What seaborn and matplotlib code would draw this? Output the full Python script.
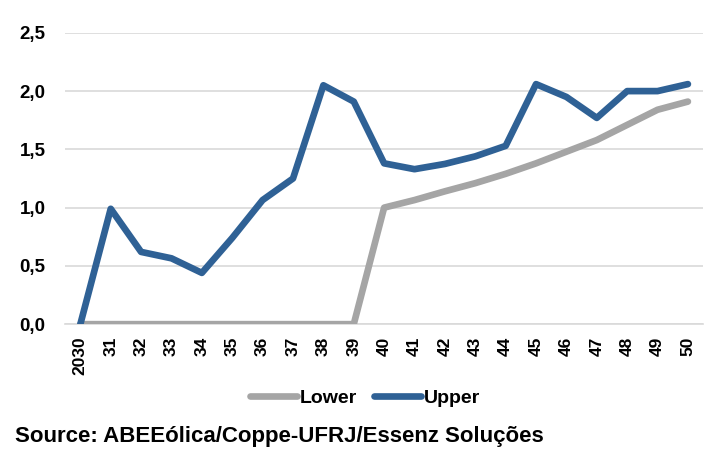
import matplotlib
matplotlib.use("Agg")
import matplotlib.pyplot as plt
import seaborn as sns
import pandas as pd
from matplotlib.lines import Line2D

years = ["2030", "31", "32", "33", "34", "35", "36", "37", "38", "39", "40",
         "41", "42", "43", "44", "45", "46", "47", "48", "49", "50"]
lower = [0, 0, 0, 0, 0, 0, 0, 0, 0, 0, 1.00,
         1.065, 1.14, 1.21, 1.29, 1.38, 1.48, 1.58, 1.71, 1.84, 1.91]
upper = [0, 0.99, 0.62, 0.565, 0.44, 0.74, 1.065, 1.25, 2.05, 1.91, 1.38,
         1.33, 1.375, 1.44, 1.53, 2.06, 1.95, 1.77, 2.0, 2.0, 2.06]
yticks = [0, 0.5, 1.0, 1.5, 2.0, 2.5]
ytick_labels = ["0,0", "0,5", "1,0", "1,5", "2,0", "2,5"]

sns.set_theme(style="white")
plt.rcParams['font.family'] = ['Liberation Sans', 'DejaVu Sans']
plt.rcParams['text.color'] = 'black'
plt.rcParams['xtick.color'] = 'black'
plt.rcParams['ytick.color'] = 'black'

df = pd.DataFrame({
    "idx": list(range(len(years))) * 2,
    "value": lower + upper,
    "series": ["Lower"] * len(years) + ["Upper"] * len(years),
})

fig = plt.figure(figsize=(7.16, 4.76), dpi=100)
ax = fig.add_axes([0.091, 0.319, 0.891, 0.612])
sns.lineplot(data=df, x="idx", y="value", hue="series",
             palette={"Lower": "#A5A5A5", "Upper": "#2F6195"},
             linewidth=4.8, ax=ax, legend=False, zorder=3)
for s in ax.lines:
    s.set_solid_capstyle("round")
    s.set_solid_joinstyle("round")

ax.set_xlim(-0.5, len(years) - 0.5)
ax.set_ylim(0, 2.5)
ax.set_yticks(yticks)
ax.set_yticklabels(ytick_labels, fontsize=13.5, fontweight="bold", color="black")
ax.set_xticks(range(len(years)))
ax.set_xticklabels(years, rotation=90, fontsize=12.5, fontweight="bold", color="black")
ax.tick_params(axis="y", length=0, pad=14)
ax.tick_params(axis="x", length=0, pad=9)
ax.set_xlabel("")
ax.set_ylabel("")
ax.yaxis.grid(True, color="#D9D9D9", linewidth=1.2, zorder=0)
ax.xaxis.grid(False)
for sp in ["top", "right", "left"]:
    ax.spines[sp].set_visible(False)
ax.spines["bottom"].set_color("#D9D9D9")
ax.spines["bottom"].set_linewidth(1.2)

handles = [Line2D([0], [0], color="#A5A5A5", lw=4.8, solid_capstyle="round"),
           Line2D([0], [0], color="#2F6195", lw=4.8, solid_capstyle="round")]
leg = fig.legend(handles, ["Lower", "Upper"], loc="center", bbox_to_anchor=(0.51, 0.163),
                 ncol=2, frameon=False, prop={"weight": "bold", "size": 14},
                 handlelength=2.4, handletextpad=0.15, columnspacing=0.9)
for t in leg.get_texts():
    t.set_color("black")

fig.text(0.021, 0.082, "Source: ABEEólica/Coppe-UFRJ/Essenz Soluções",
         fontsize=16, fontweight="bold", ha="left", va="center", color="black")

fig.savefig("out.png", dpi=100, facecolor="white")
